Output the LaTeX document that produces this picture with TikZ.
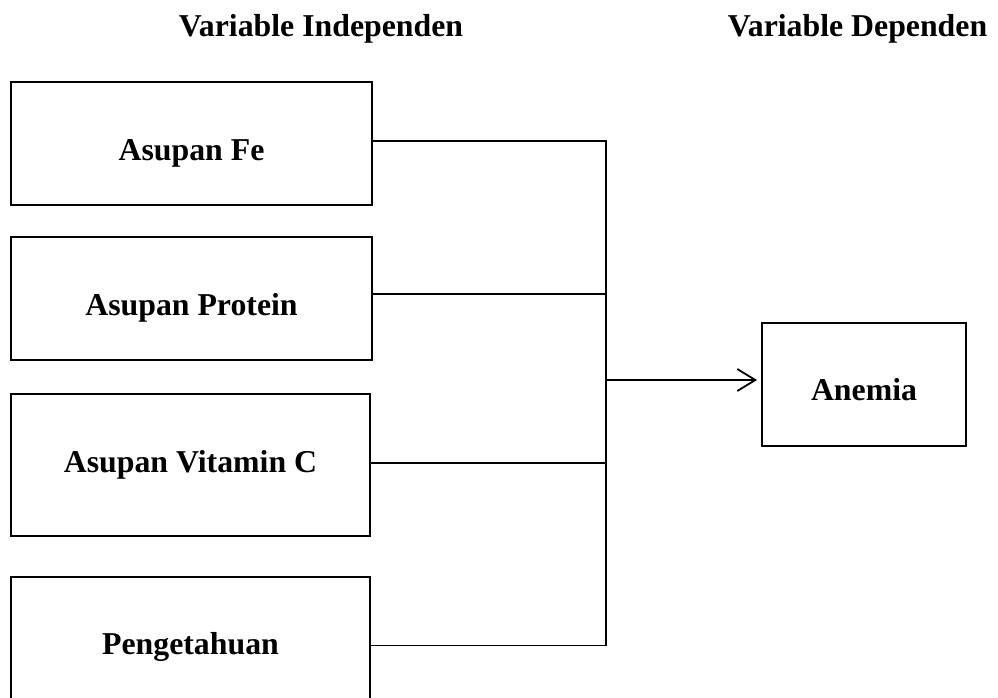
\documentclass[tikz,border=0pt]{standalone}
\usepackage{fontspec}
\setmainfont{Liberation Serif}
\usetikzlibrary{arrows.meta}
\begin{document}
\begin{tikzpicture}[x=1pt,y=-1pt,
  box/.style={draw=black,line width=2pt,rectangle,inner sep=0pt},
  lbl/.style={anchor=base,inner sep=0pt,font=\fontsize{31.8}{36}\selectfont\bfseries},
  conn/.style={draw=black,line width=1.8pt,line cap=rect}]
\useasboundingbox (0,0) rectangle (998,697);
\clip (0,0) rectangle (998,697);
\node[lbl] (h1) at (321,36) {Variable Independen};
\node[lbl] (h2) at (857.5,36) {Variable Dependen};
\node[box,minimum width=361pt,minimum height=123pt] (b1) at (191.5,143.5) {};
\node[box,minimum width=361pt,minimum height=123pt] (b2) at (191.5,298.5) {};
\node[box,minimum width=359pt,minimum height=142pt] (b3) at (190.5,465) {};
\node[box,minimum width=359pt,minimum height=150pt] (b4) at (190.5,652) {};
\node[box,minimum width=204pt,minimum height=123pt] (an) at (864,384.5) {};
\node[lbl] (t1) at (191.5,160) {Asupan Fe};
\node[lbl] (t2) at (191.5,315) {Asupan Protein};
\node[lbl] (t3) at (190.5,472) {Asupan Vitamin C};
\node[lbl] (t4) at (190.5,654) {Pengetahuan};
\node[lbl] (t5) at (864,400) {Anemia};
\coordinate (j1) at (606,141);
\coordinate (j2) at (606,294);
\coordinate (j3) at (606,463);
\coordinate (j4) at (606,645.5);
\coordinate (jm) at (606,380);
\draw[conn] (b1.east |- j1) -- (j1);
\draw[conn] (b2.east |- j2) -- (j2);
\draw[conn] (b3.east |- j3) -- (j3);
\draw[conn] (b4.east |- j4) -- (j4);
\draw[conn] (j1) -- (j4);
\draw[conn,line cap=butt,-{Straight Barb[length=18pt,width=22pt,line width=1.8pt]},shorten >=4pt] (jm) -- (an.west |- jm);
\end{tikzpicture}
\end{document}
